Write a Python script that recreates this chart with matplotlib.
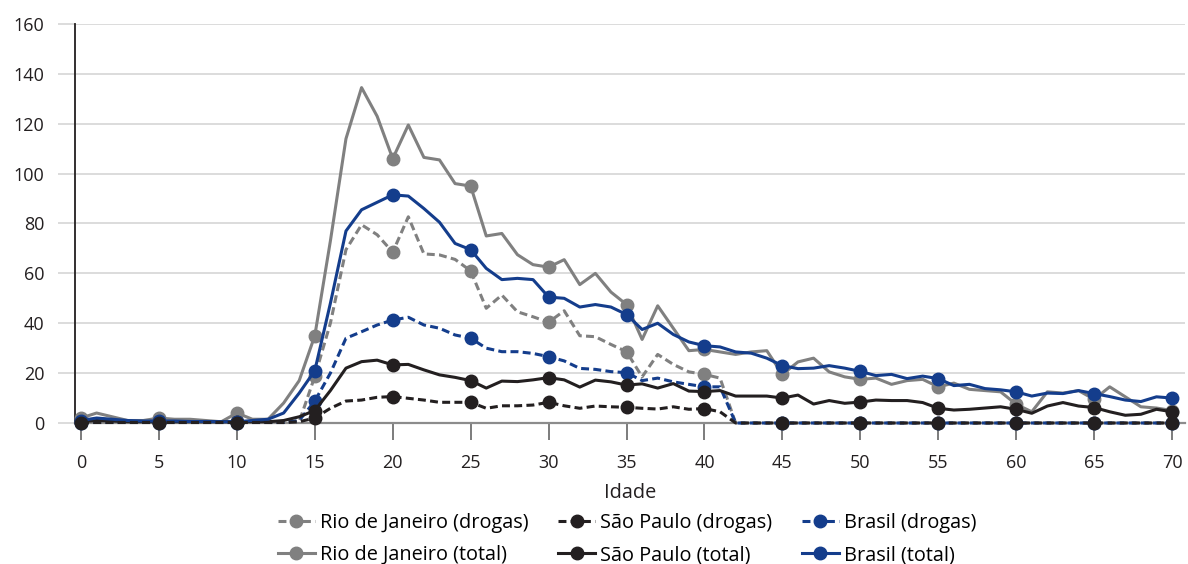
import matplotlib
matplotlib.use('Agg')
import matplotlib.pyplot as plt

plt.rcParams['font.family'] = ['Open Sans', 'DejaVu Sans']

# idades 0..70
idade = list(range(0, 71))

rio_drogas = [0.5, 0.5, 0.3, 0.3, 0.3, 0.3, 0.3, 0.3, 0.3, 0.3,
              0.3, 0.3, 0.2, 0.2, 0.5, 18.7, 40, 69.5, 79.5, 75.5,
              68.5, 82.7, 67.8, 67.4, 65.6, 61, 46, 51.3, 44.6, 42.6,
              40.4, 45, 35, 34.6, 31.5, 28.6, 18.5, 27.5, 23.5, 20.5,
              19.5, 18] + [0] * 29
sp_drogas = [0.2] * 14 + [0.5, 2, 5.9, 8.8, 9.2, 10.3,
             10.6, 9.9, 9.2, 8.3, 8.3, 8.3, 5.9, 6.9, 6.9, 7.2,
             8.3, 6.9, 5.9, 6.8, 6.5, 6.3, 5.9, 5.6, 6.5, 5.5,
             5.8, 4.5] + [0] * 29
br_drogas = [0.2] * 14 + [1, 8.8, 20, 34, 36.6, 39.3,
             41.3, 42.4, 39.3, 38, 35.3, 34, 30, 28.6, 28.6, 27.9,
             26.6, 24.9, 21.9, 21.5, 20.6, 20.2, 17, 18, 16.5, 15.5,
             14.5, 14.5] + [0] * 29

rio_total = [2, 4, 2.5, 1, 1, 2, 1.5, 1.5, 1, 0.5,
             4, 1.5, 1.5, 8, 17, 35, 73, 114, 134.5, 123,
             106, 119.5, 106.5, 105.5, 96, 95, 75, 76, 67.5, 63.5,
             62.5, 65.5, 55.5, 60, 52.5, 47.5, 33.5, 47, 38, 29,
             29.5, 28.5, 27.5, 28.5, 29, 19.5, 24.5, 26, 20.5, 18.5,
             17.5, 18, 15.5, 17, 17.5, 14.5, 16, 13.5, 13, 12.5,
             7.5, 4.5, 12.5, 12, 13, 9.5, 14.5, 10.5, 6.5, 6,
             5]
sp_total = [0.5, 1, 0.8, 0.5, 0.5, 0.5, 0.5, 0.5, 0.5, 0.5,
            0.5, 0.5, 0.5, 1, 2.5, 5, 13, 22, 24.6, 25.2,
            23.3, 23.5, 21.3, 19.3, 18.3, 17, 14, 16.8, 16.6, 17.3,
            18.2, 17.3, 14.4, 17.2, 16.5, 15.2, 15.7, 14, 15.8, 12.8,
            12.6, 13, 10.8, 10.8, 10.8, 10, 11.2, 7.6, 9, 7.9,
            8.4, 9.2, 9, 9, 8.2, 5.9, 5.2, 5.5, 6, 6.5,
            5.5, 3.9, 6.8, 8.2, 6.8, 6.2, 4.5, 3.1, 3.5, 5.5,
            4.5]
br_total = [1, 2, 1.5, 1, 0.8, 0.8, 0.8, 0.6, 0.6, 0.5,
            0.5, 1, 1.5, 4, 12, 21, 48, 77, 85.5, 88.5,
            91.5, 91, 86, 80.5, 72, 69.5, 62, 57.5, 58, 57.5,
            50.5, 50, 46.5, 47.5, 46.5, 43.5, 37.5, 40, 35.5, 32.5,
            31, 30.5, 28.5, 28, 26, 23, 21.8, 22, 23, 22,
            20.7, 19, 19.5, 17.8, 18.8, 17.8, 15, 15.5, 13.8, 13.3,
            12.5, 10.8, 12, 11.8, 13, 11.8, 10.6, 9.2, 8.6, 10.5,
            10]

cinza = '#808080'
preto = '#231f20'
azul = '#143d8c'
tracejado = (0, (2.6, 1.4))

series = [
    (rio_drogas, cinza, tracejado, 'Rio de Janeiro (drogas)', 3),
    (sp_drogas, preto, tracejado, 'São Paulo (drogas)', 5),
    (br_drogas, azul, tracejado, 'Brasil (drogas)', 4),
    (rio_total, cinza, '-', 'Rio de Janeiro (total)', 3),
    (sp_total, preto, '-', 'São Paulo (total)', 4),
    (br_total, azul, '-', 'Brasil (total)', 4),
]

fig = plt.figure(figsize=(11.88, 5.64), dpi=100)
ax = fig.add_axes([75 / 1188, 141 / 564, 1110 / 1188, 399 / 564])

linhas = []
for vals, cor, estilo, nome, z in series:
    l, = ax.plot(idade, vals, color=cor, linestyle=estilo, linewidth=2.2,
                 marker='o', markersize=9, markevery=5, label=nome,
                 zorder=z, clip_on=False)
    linhas.append(l)

ax.set_xlim(-0.385, 70.83)
ax.set_ylim(0, 160)
ax.set_xticks(range(0, 71, 5))
ax.set_yticks(range(0, 161, 20))
ax.grid(axis='y', color='#d9d9d9', linewidth=1.3, zorder=0)
ax.set_axisbelow(True)

for lado in ['top', 'right']:
    ax.spines[lado].set_visible(False)
ax.spines['left'].set_color(preto)
ax.spines['left'].set_linewidth(1.3)
ax.spines['bottom'].set_color('#8c8c8c')
ax.spines['bottom'].set_linewidth(1.6)

ax.tick_params(axis='x', length=12, width=1.2, color='#666666', pad=10,
               labelsize=13, labelcolor='#231f20')
ax.tick_params(axis='y', length=12, width=1.3, color='#d9d9d9', pad=10,
               labelsize=13, labelcolor='#231f20')

ax.set_xlabel('Idade', fontsize=14.3, color='#231f20', labelpad=8)

# legenda em linhas (matplotlib preenche por coluna)
ordem = [0, 3, 1, 4, 2, 5]
fig.legend([linhas[i] for i in ordem], [linhas[i].get_label() for i in ordem],
           loc='center', bbox_to_anchor=(627 / 1188, 1 - 539 / 564), ncol=3,
           frameon=False, fontsize=14.3, handlelength=1.86, handletextpad=0.25,
           columnspacing=1.5, labelspacing=0.62, borderpad=0)

fig.savefig('out.png', dpi=100)
